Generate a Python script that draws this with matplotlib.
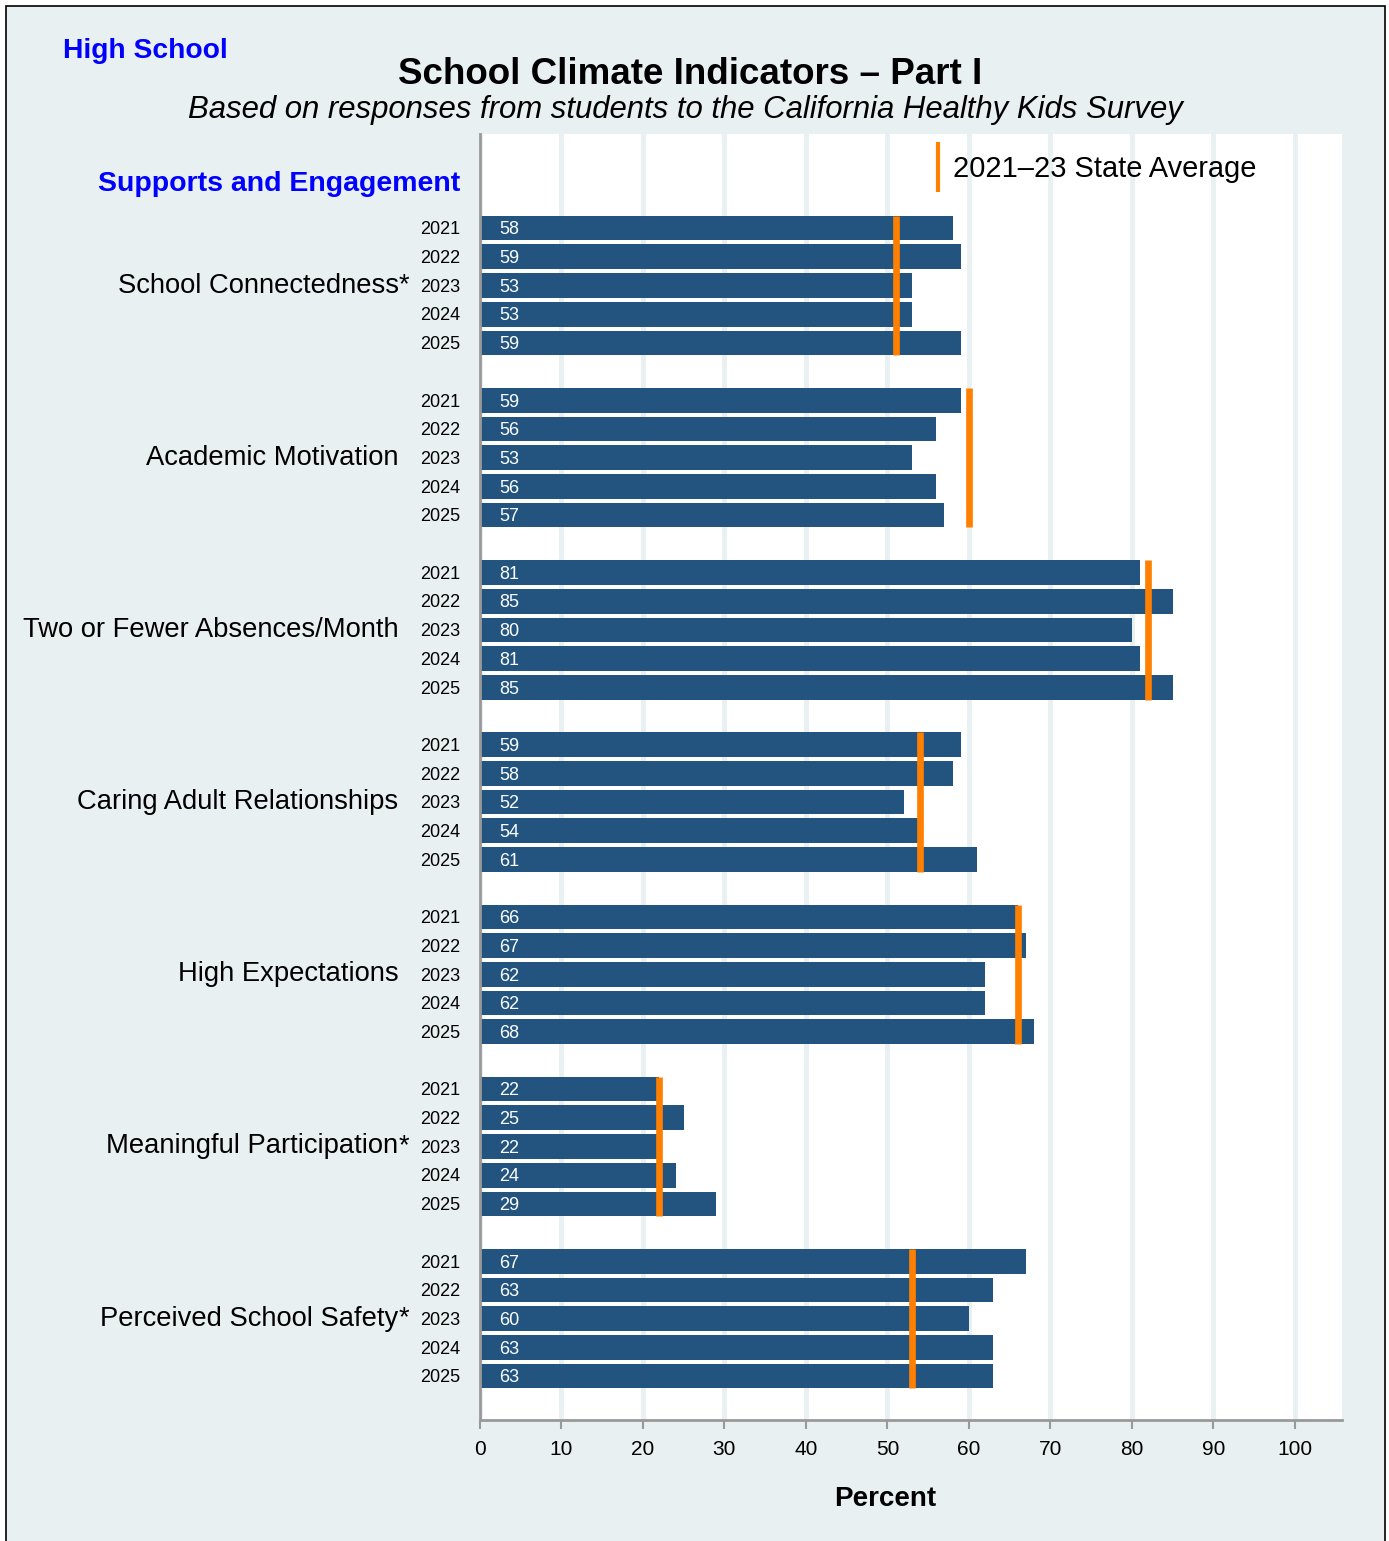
import matplotlib
matplotlib.use('Agg')
import matplotlib.pyplot as plt
from matplotlib.patches import Rectangle

plt.rcParams['font.family'] = ['Liberation Sans', 'DejaVu Sans']

indicators = ['School Connectedness*', 'Academic Motivation', 'Two or Fewer Absences/Month',
              'Caring Adult Relationships', 'High Expectations', 'Meaningful Participation*',
              'Perceived School Safety*']
years = ['2021', '2022', '2023', '2024', '2025']
values = [
    [58, 59, 53, 53, 59],
    [59, 56, 53, 56, 57],
    [81, 85, 80, 81, 85],
    [59, 58, 52, 54, 61],
    [66, 67, 62, 62, 68],
    [22, 25, 22, 24, 29],
    [67, 63, 60, 63, 63],
]
state_avg = [51, 60, 82, 54, 66, 22, 53]
xticks = [0, 10, 20, 30, 40, 50, 60, 70, 80, 90, 100]

W, H = 1389, 1541
BG = '#e9f0f2'
BAR = '#22547f'
ORANGE = '#ff8000'

fig = plt.figure(figsize=(W / 100, H / 100), dpi=100, facecolor='white')
fig.patches.append(Rectangle((6 / W, -0.01), (1385 - 6) / W, 1 - 6 / H + 0.01,
                             transform=fig.transFigure, facecolor=BG, edgecolor='black',
                             lw=1.2, zorder=-10))


def fx(x):
    return x / W


def fy(y):
    return 1 - y / H


ax = fig.add_axes([fx(480), fy(1420), fx(1342) - fx(480), fy(134) - fy(1420)])
ax.set_facecolor('white')

n_years = len(years)
pitch = n_years + 1
for g, (name, vals) in enumerate(zip(indicators, values)):
    pos = [g * pitch + j for j in range(n_years)]
    ax.barh(pos, vals, height=0.86, color=BAR, zorder=2)
    for p, v, yr in zip(pos, vals, years):
        ax.text(2.4, p + 0.06, str(v), color='white', fontsize=13, va='center', ha='left', zorder=4)
        ax.text(-2.45, p + 0.06, yr, color='black', fontsize=13, va='center', ha='right',
                clip_on=False)
    ax.vlines(state_avg[g], pos[0] - 0.43, pos[-1] + 0.43, color=ORANGE, lw=4.8, zorder=3)
    # category label, asterisk hangs past the right edge
    mid = pos[n_years // 2]
    base = name.rstrip('*')
    ax.text(-10.0, mid, base, fontsize=19.7, va='center', ha='right', clip_on=False)
    if name.endswith('*'):
        ax.text(-10.0, mid, '*', fontsize=19.7, va='center', ha='left', clip_on=False)

ax.set_xlim(0, 105.8)
ax.set_ylim(41.53, -3.28)
ax.set_xticks(xticks)
ax.set_yticks([])
ax.tick_params(axis='x', colors='#999999', length=6.5, width=1.5, pad=8,
               labelsize=15, labelcolor='black')
ax.xaxis.grid(True, color=BG, lw=3.5)
ax.set_axisbelow(True)
for s in ['top', 'right']:
    ax.spines[s].set_visible(False)
for s in ['left', 'bottom']:
    ax.spines[s].set_color('#999999')
    ax.spines[s].set_linewidth(2)

# legend
ax.plot([56.2, 56.2], [-3.0, -1.27], color=ORANGE, lw=3, clip_on=False, solid_capstyle='butt')
ax.text(58.0, -2.05, '2021\u201323 State Average', fontsize=20.9, va='center', ha='left')

fig.text(fx(63), fy(51), 'High School', color='#0000ff', fontsize=20.3, fontweight='bold',
         ha='left', va='center')
fig.text(fx(690), fy(74), 'School Climate Indicators \u2013 Part I', fontsize=26.5,
         fontweight='bold', ha='center', va='center')
fig.text(fx(685), fy(110), 'Based on responses from students to the California Healthy Kids Survey',
         fontsize=22.4, style='italic', ha='center', va='center')
fig.text(fx(460), fy(184), 'Supports and Engagement', color='#0000ff', fontsize=20.5,
         fontweight='bold', ha='right', va='center')
fig.text(fx(885), fy(1499), 'Percent', fontsize=20, fontweight='bold', ha='center', va='center')

fig.savefig('out.png', dpi=100, facecolor='white')
